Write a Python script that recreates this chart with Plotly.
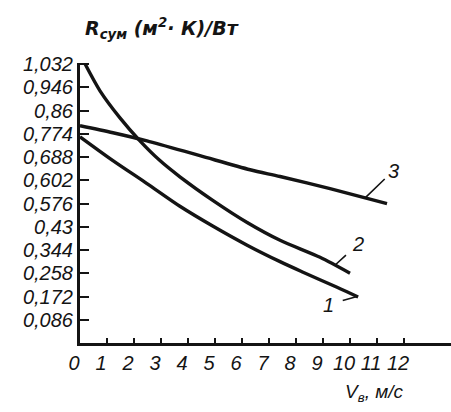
import numpy as np
import plotly.graph_objects as go

# Air velocity V_в, m/s, and total thermal resistance R_сум, (m²·K)/W
x1 = [0.0, 1.22, 2.48, 3.70, 4.93, 6.19, 7.41, 8.26, 9.52, 10.30]
y1 = [0.763, 0.675, 0.590, 0.506, 0.432, 0.362, 0.301, 0.262, 0.206, 0.170]

x2 = [0.19, 0.74, 1.48, 2.22, 2.96, 3.70, 4.93, 6.19, 7.41, 8.89, 10.0]
y2 = [1.032, 0.933, 0.833, 0.748, 0.675, 0.615, 0.527, 0.446, 0.380, 0.317, 0.258]

x3 = [0.0, 1.22, 2.48, 4.44, 6.30, 7.41, 9.26, 11.37]
y3 = [0.804, 0.778, 0.748, 0.693, 0.641, 0.616, 0.571, 0.516]

x_ticks = list(range(13))
x_labels = [str(v) for v in x_ticks]
y_ticks = [0.086 * k for k in range(1, 13)]
y_labels = ["0,086", "0,172", "0,258", "0,344", "0,43", "0,576",
            "0,602", "0,688", "0,774", "0,86", "0,946", "1,032"]

curve_names = ["1", "2", "3"]

INK = "#141414"
TICK_FONT = dict(family="Liberation Sans", size=20, color=INK, style="italic")

fig = go.Figure()
for xs, ys, name in zip([x1, x2, x3], [y1, y2, y3], curve_names):
    fig.add_trace(go.Scatter(
        x=xs, y=ys, mode="lines", name=name,
        line=dict(color=INK, width=3.4, shape="spline", smoothing=0.8),
        showlegend=False, hoverinfo="skip",
    ))

# curve numbers with short leader strokes
leaders = [
    (x1, y1, "1", 10.26, -29, 8, 8),
    (x2, y2, "2", 9.44, 23, -21, 6),
    (x3, y3, "3", 10.56, 28, -27, 2),
]
for xs, ys, label, xp, ax, ay, sso in leaders:
    fig.add_annotation(
        x=xp, y=float(np.interp(xp, xs, ys)), text=label,
        showarrow=True, arrowhead=0, arrowwidth=1.6, arrowcolor=INK,
        ax=ax, ay=ay, standoff=0, startstandoff=sso,
        font=dict(family="Liberation Sans", size=20, color=INK, style="italic"),
    )

# axis titles
fig.add_annotation(
    xref="paper", yref="paper", x=0.008, y=1.125, xanchor="left", yanchor="middle",
    text="R<sub>сум</sub> (м<sup>2</sup>· К)/Вт", showarrow=False,
    font=dict(family="DejaVu Sans", size=19, color=INK, style="italic", weight=600),
)
fig.add_annotation(
    xref="x", yref="paper", x=10.9, y=-0.179, xanchor="center", yanchor="middle",
    text="V<sub>в</sub>, м/с", showarrow=False,
    font=dict(family="Liberation Sans", size=19, color=INK, style="italic"),
)

fig.update_xaxes(
    range=[0, 13.74], tickvals=x_ticks, ticktext=x_labels,
    showline=True, linecolor=INK, linewidth=3,
    ticks="inside", ticklen=5, tickwidth=2, tickcolor=INK,
    showgrid=False, zeroline=False, tickfont=TICK_FONT,
    ticklabelshift=-6, ticklabelstandoff=0,
)
fig.update_yaxes(
    range=[0, 1.036], tickvals=y_ticks, ticktext=y_labels,
    showline=True, linecolor=INK, linewidth=3,
    ticks="inside", ticklen=9, tickwidth=2, tickcolor=INK,
    showgrid=False, zeroline=False, tickfont=TICK_FONT,
    ticklabelstandoff=0,
)

fig.update_layout(
    width=451, height=412,
    margin=dict(l=80, r=0, t=63, b=69),
    paper_bgcolor="white", plot_bgcolor="white",
)

fig.write_html("out.html")
